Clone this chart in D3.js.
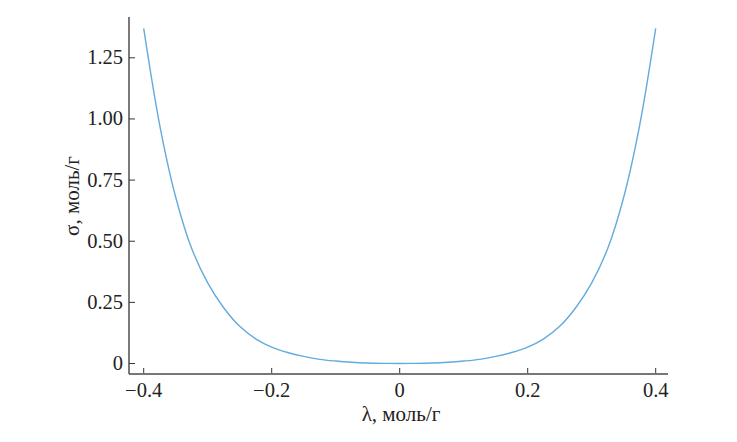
<!DOCTYPE html>
<html>
<head>
<meta charset="utf-8">
<script src="https://cdn.jsdelivr.net/npm/d3@7"></script>
<style>
  html, body { margin: 0; padding: 0; background: #fff; }
  svg { display: block; }
  text { font-family: "Liberation Serif", "Times New Roman", serif; fill: #222; }
</style>
</head>
<body>
<svg id="chart" width="737" height="442"></svg>
<script>
// λ (mol/g) values
const lambdaValues = [-0.4, -0.375, -0.35, -0.325, -0.3, -0.275, -0.25, -0.225, -0.2, -0.175, -0.15, -0.125, -0.1, -0.075, -0.05, -0.025,
  0, 0.025, 0.05, 0.075, 0.1, 0.125, 0.15, 0.175, 0.2, 0.225, 0.25, 0.275, 0.3, 0.325, 0.35, 0.375, 0.4];
// σ (mol/g) values
const sigmaValues = [1.37, 0.975, 0.68, 0.47, 0.33, 0.228, 0.152, 0.101, 0.067, 0.045, 0.029, 0.017, 0.010, 0.005, 0.002, 0.0006,
  0.0, 0.0006, 0.002, 0.005, 0.010, 0.017, 0.029, 0.045, 0.067, 0.101, 0.152, 0.228, 0.33, 0.47, 0.68, 0.975, 1.37];
const xTicks = [-0.4, -0.2, 0, 0.2, 0.4];
const xTickLabels = ["\u22120.4", "\u22120.2", "0", "0.2", "0.4"];
const yTicks = [0, 0.25, 0.5, 0.75, 1.0, 1.25];
const yTickLabels = ["0", "0.25", "0.50", "0.75", "1.00", "1.25"];
const xTitle = "\u03bb, моль/г";
const yTitle = "\u03c3, моль/г";

(function () {
const svg = d3.select("#chart");
const pLeft = 129, pRight = 668, pTop = 17, pBottom = 374;

const x = d3.scaleLinear().domain([-0.4, 0.4]).range([143.7, 655.7]);
const y = d3.scaleLinear().domain([0, 1.25]).range([363.5, 57.8]);

// Axis lines
svg.append("line").attr("x1", pLeft).attr("x2", pRight).attr("y1", pBottom).attr("y2", pBottom)
  .attr("stroke", "#777").attr("stroke-width", 2);
svg.append("line").attr("x1", pLeft).attr("x2", pLeft).attr("y1", pTop).attr("y2", pBottom)
  .attr("stroke", "#333").attr("stroke-width", 1.3);

// X ticks (inward)
const xg = svg.append("g");
xg.selectAll("line.t").data(xTicks).enter().append("line")
  .attr("x1", d => x(d)).attr("x2", d => x(d))
  .attr("y1", pBottom - 1).attr("y2", pBottom - 6)
  .attr("stroke", "#333").attr("stroke-width", 1);
xg.selectAll("text").data(xTicks).enter().append("text")
  .attr("x", d => x(d)).attr("y", 397)
  .attr("text-anchor", "middle").attr("font-size", 20.5)
  .text((d, i) => xTickLabels[i]);

// Y ticks (inward)
const yg = svg.append("g");
yg.selectAll("line.t").data(yTicks).enter().append("line")
  .attr("x1", pLeft).attr("x2", pLeft + 6)
  .attr("y1", d => y(d)).attr("y2", d => y(d))
  .attr("stroke", "#333").attr("stroke-width", 1);
yg.selectAll("text").data(yTicks).enter().append("text")
  .attr("x", pLeft - 6).attr("y", d => y(d) + 6.5)
  .attr("text-anchor", "end").attr("font-size", 20.5)
  .text((d, i) => yTickLabels[i]);

// Titles
svg.append("text").attr("x", 401).attr("y", 421).attr("text-anchor", "middle")
  .attr("font-size", 21).text(xTitle);
svg.append("text").attr("transform", "translate(79,196) rotate(-90)")
  .attr("text-anchor", "middle").attr("font-size", 21).text(yTitle);

// Curve
const data = lambdaValues.map((l, i) => ({l, s: sigmaValues[i]}));
const line = d3.line().x(d => x(d.l)).y(d => y(d.s)).curve(d3.curveCatmullRom.alpha(0.5));
svg.append("path").datum(data).attr("d", line)
  .attr("fill", "none").attr("stroke", "#62abde").attr("stroke-width", 1.4);
})();
</script>
</body>
</html>
